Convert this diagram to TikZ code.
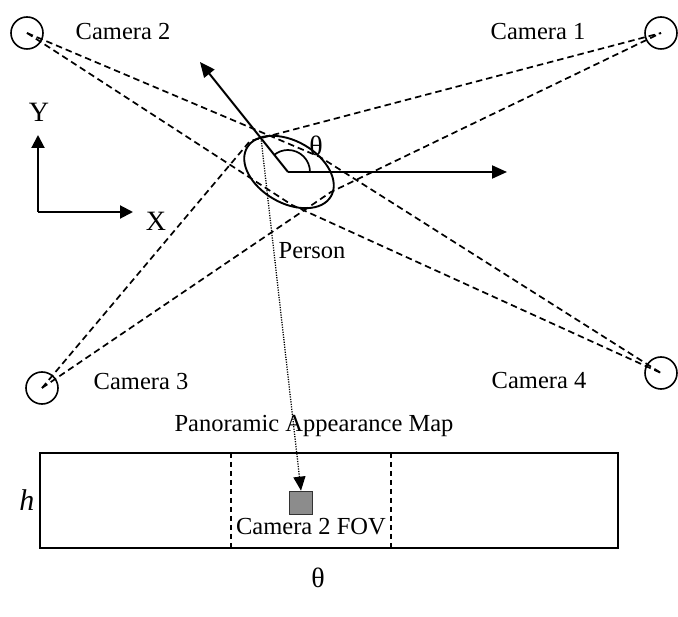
\documentclass[tikz,border=0pt]{standalone}
\usepackage{fontspec}
\setmainfont{Liberation Serif}
\usetikzlibrary{arrows.meta,shapes.geometric}
\begin{document}
\begin{tikzpicture}[x=1pt,y=-1pt,
  lbl/.style={font=\fontsize{24.5}{29}\selectfont, inner sep=0pt},
  big/.style={font=\fontsize{28}{32}\selectfont, inner sep=0pt},
  cam/.style={circle, draw, line width=1.6pt, minimum size=32pt, inner sep=0pt},
  ray/.style={dash pattern=on 6.5pt off 4pt, line width=1.7pt},
  arr/.style={line width=2pt, -{Triangle[length=15pt,width=13pt]}},
  fov/.style={dash pattern=on 5pt off 4pt, line width=1.5pt},
]
\useasboundingbox (0,0) rectangle (678,617);
% cameras
\node[cam] (c1) at (661,33) {};
\node[cam] (c2) at (27,33) {};
\node[cam] (c3) at (42,388) {};
\node[cam] (c4) at (661,373) {};
\node[lbl] (l1) at (538,32) {Camera 1};
\node[lbl] (l2) at (123,32) {Camera 2};
\node[lbl] (l3) at (141,382) {Camera 3};
\node[lbl] (l4) at (539,381) {Camera 4};
% person
\coordinate (pc) at (288,172);
\draw[line width=1.9pt, rotate around={-30:(289,172)}] (289,172) ellipse [x radius=48.5, y radius=31];
% tangent points
\coordinate (p1) at (320,157);
\coordinate (p2) at (292,205);
\coordinate (p3) at (250,141);
\coordinate (p4) at (331,192);
\draw[ray] (c2.center) -- (p1) -- (c4.center);
\draw[ray] (c2.center) -- (p2) -- (c4.center);
\draw[ray] (c3.center) -- (p3) -- (c1.center);
\draw[ray] (c3.center) -- (p4) -- (c1.center);
% heading arrows
\coordinate (hd) at (200,62);
\coordinate (ref) at (507,172);
\draw[arr] (pc) -- (hd);
\draw[arr] (pc) -- (ref);
\draw[line width=1.7pt] (pc) ++(22,0) arc[start angle=0, end angle=-128.7, radius=22];
\node[big] (th) at (316,146) {θ};
\node[lbl] (pl) at (312,251) {Person};
% axes
\coordinate (o) at (38,212);
\coordinate (ytip) at (38,135);
\coordinate (xtip) at (133,212);
\draw[line width=2pt, -{Triangle[length=13pt,width=13pt]}] (o) -- (ytip);
\draw[line width=2pt, -{Triangle[length=13pt,width=13pt]}] (o) -- (xtip);
\node[big] (yl) at (39,112) {Y};
\node[big] (xl) at (156,221) {X};
% panoramic map
\node[lbl] (ml) at (314,426) {Panoramic Appearance Map};
\node[draw, line width=1.8pt, minimum width=578pt, minimum height=95pt, inner sep=0pt] (map) at (329,500.5) {};
\coordinate (f1t) at (231,453);
\coordinate (f1b) at (231,548);
\coordinate (f2t) at (391,453);
\coordinate (f2b) at (391,548);
\draw[fov] (f1t) -- (f1b);
\draw[fov] (f2t) -- (f2b);
\node[draw=black!80, line width=1.7pt, fill=black!45, minimum size=23pt, inner sep=0pt] (patch) at (301,503) {};
\coordinate (pe) at (261,138);
\draw[line width=1.3pt, dash pattern=on 1.2pt off 1.3pt, -{Triangle[length=14pt,width=12pt]}] (pe) -- (patch.north);
\node[lbl] (fl) at (311,527) {Camera 2 FOV};
\node[big, font=\fontsize{30}{34}\selectfont\itshape] (hl) at (27,500) {h};
\node[big] (tl) at (318,578) {θ};
\end{tikzpicture}
\end{document}
